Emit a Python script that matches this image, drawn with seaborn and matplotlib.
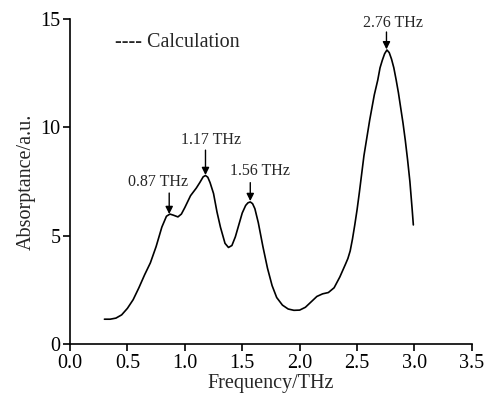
import numpy as np
import pandas as pd
import matplotlib
matplotlib.use('Agg')
import matplotlib.pyplot as plt
import seaborn as sns

# ── Data ──────────────────────────────────────────────────────────────────────
freq = [0.30, 0.35, 0.40, 0.45, 0.50, 0.55, 0.60, 0.65, 0.70, 0.75, 0.80, 0.84,
        0.87, 0.90, 0.94, 0.97, 1.00, 1.05, 1.10, 1.13, 1.16, 1.18, 1.20, 1.22,
        1.25, 1.28, 1.31, 1.35, 1.38, 1.41, 1.44, 1.47, 1.50, 1.53, 1.55, 1.57,
        1.59, 1.61, 1.64, 1.68, 1.72, 1.76, 1.80, 1.85, 1.90, 1.95, 2.00, 2.05,
        2.10, 2.15, 2.20, 2.25, 2.30, 2.35, 2.40, 2.42, 2.44, 2.46, 2.48, 2.50,
        2.52, 2.56, 2.61, 2.65, 2.68, 2.70, 2.72, 2.74, 2.76, 2.78, 2.80, 2.82,
        2.84, 2.86, 2.88, 2.90, 2.92, 2.94, 2.96, 2.98, 2.99]
absorb = [1.15, 1.15, 1.20, 1.35, 1.65, 2.05, 2.60, 3.20, 3.75, 4.50, 5.40, 5.90,
          6.00, 5.95, 5.87, 6.00, 6.30, 6.85, 7.20, 7.45, 7.72, 7.78, 7.70, 7.45,
          6.95, 6.10, 5.40, 4.65, 4.46, 4.55, 4.95, 5.50, 6.05, 6.40, 6.52, 6.56,
          6.48, 6.25, 5.60, 4.50, 3.50, 2.70, 2.15, 1.80, 1.62, 1.56, 1.57, 1.70,
          1.95, 2.20, 2.32, 2.38, 2.60, 3.10, 3.70, 3.95, 4.30, 4.85, 5.50, 6.20,
          7.00, 8.70, 10.34, 11.50, 12.18, 12.75, 13.10, 13.40, 13.57, 13.45, 13.15, 12.75,
          12.20, 11.60, 10.90, 10.20, 9.40, 8.50, 7.50, 6.20, 5.50]

peak_labels = ['0.87 THz', '1.17 THz', '1.56 THz', '2.76 THz']
peak_x = [0.864, 1.18, 1.57, 2.756]
peak_y = [6.0, 7.8, 6.6, 13.6]
label_x = [0.766, 1.227, 1.654, 2.81]
label_y = [7.48, 9.42, 8.0, 14.81]
arrow_top = [6.97, 8.95, 7.45, 14.4]

df = pd.DataFrame({'freq': freq, 'absorb': absorb})

# ── Figure ────────────────────────────────────────────────────────────────────
sns.set_theme(style='ticks')
plt.rcParams['font.family'] = ['Liberation Serif', 'DejaVu Serif']

fig = plt.figure(figsize=(4.86, 3.96), dpi=100)
ax = fig.add_axes([0.144, 0.131, 0.827, 0.821])

sns.lineplot(data=df, x='freq', y='absorb', color='black', lw=1.2, ax=ax, sort=False)

for lab, px, py, lx, ly, at in zip(peak_labels, peak_x, peak_y, label_x, label_y, arrow_top):
    ax.text(lx, ly, lab, ha='center', va='center', fontsize=11.5)
    ax.annotate('', xy=(px, py), xytext=(px, at),
                arrowprops=dict(arrowstyle='-|>', color='black', lw=1.0,
                                mutation_scale=11, shrinkA=0, shrinkB=0))

ax.text(0.39, 13.9, '---- Calculation', ha='left', va='center', fontsize=14.5)

ax.set_xlim(0, 3.5)
ax.set_ylim(0, 15)
ax.set_xticks(np.arange(0, 3.51, 0.5))
ax.set_yticks([0, 5, 10, 15])
ax.set_xticklabels([f'{v:.1f}' for v in np.arange(0, 3.51, 0.5)])
ax.set_xlabel('Frequency/THz', fontsize=14.5, labelpad=1)
ax.set_ylabel('Absorptance/a.u.', fontsize=14.5, labelpad=3)
ax.tick_params(axis='both', labelsize=14.5, direction='out', length=5, width=1.2,
               color='black', labelcolor='black', pad=2)
sns.despine(ax=ax)
for s in ['left', 'bottom']:
    ax.spines[s].set_color('black')
    ax.spines[s].set_linewidth(1.2)

fig.savefig('out.png', dpi=100)
